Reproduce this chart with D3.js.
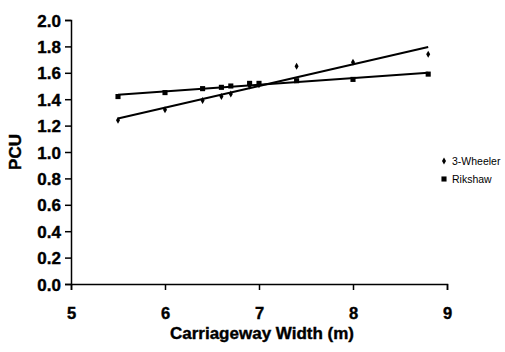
<!DOCTYPE html>
<html>
<head>
<meta charset="utf-8">
<script src="https://cdn.jsdelivr.net/npm/d3@7"></script>
<style>
  body { margin: 0; background: #fff; }
  text { font-family: "Liberation Sans", Arial, sans-serif; }
</style>
</head>
<body>
<div id="chart"></div>
<script>
// chart data
var widths = [5.5, 6.0, 6.4, 6.6, 6.7, 6.9, 7.0, 7.4, 8.0, 8.8];
var wheelerPcu = [1.24, 1.32, 1.39, 1.42, 1.44, 1.50, 1.51, 1.65, 1.68, 1.74];
var rikshawPcu = [1.42, 1.45, 1.48, 1.49, 1.50, 1.52, 1.52, 1.54, 1.55, 1.59];
var xTicks = [5, 6, 7, 8, 9];
var yTicks = [0, 0.2, 0.4, 0.6, 0.8, 1.0, 1.2, 1.4, 1.6, 1.8, 2.0];

var svgWidth = 505;
var svgHeight = 352;
var margin = { top: 20, right: 58, bottom: 68, left: 71 };
var chartWidth = svgWidth - margin.left - margin.right;
var chartHeight = svgHeight - margin.top - margin.bottom;

var svg = d3.select("#chart")
  .append("svg")
  .attr("width", svgWidth)
  .attr("height", svgHeight);

var chartGroup = svg.append("g")
  .attr("transform", "translate(" + margin.left + ", " + margin.top + ")");

var x = d3.scaleLinear().domain([5, 9]).range([0, chartWidth]);
var y = d3.scaleLinear().domain([0, 2]).range([chartHeight, 0]);

// least squares trend line
function fit(xs, ys) {
  var mx = d3.mean(xs), my = d3.mean(ys);
  var num = d3.sum(xs, function (d, i) { return (d - mx) * (ys[i] - my); });
  var den = d3.sum(xs, function (d) { return (d - mx) * (d - mx); });
  var b = num / den;
  return function (v) { return my + b * (v - mx); };
}

var series = [
  { name: "3-Wheeler", values: wheelerPcu, symbol: d3.symbolDiamond, size: 14 },
  { name: "Rikshaw", values: rikshawPcu, symbol: d3.symbolSquare, size: 26 }
];

// axes
var bottomAxis = d3.axisBottom(x).tickValues(xTicks).tickFormat(d3.format("d")).tickSizeOuter(0).tickSize(6);
var leftAxis = d3.axisLeft(y).tickValues(yTicks).tickFormat(d3.format(".1f")).tickSizeOuter(0).tickSize(6);

var gx = chartGroup.append("g")
  .attr("transform", "translate(0, " + chartHeight + ")")
  .call(bottomAxis);
gx.attr("font-size", null).attr("font-family", null);
gx.selectAll("text")
  .attr("dy", null)
  .attr("y", 35)
  .attr("font-size", 16.5)
  .attr("font-weight", "bold")
  .attr("stroke", "#000")
  .attr("stroke-width", 0.4);

var gy = chartGroup.append("g").call(leftAxis);
gy.attr("font-size", null).attr("font-family", null);
gy.selectAll("text")
  .attr("x", -10)
  .attr("dy", "0.36em")
  .attr("font-size", 17)
  .attr("font-weight", "bold")
  .attr("stroke", "#000")
  .attr("stroke-width", 0.4);

svg.selectAll(".domain, .tick line").attr("stroke", "#000").attr("stroke-width", 1.5);

// trend lines and points
series.forEach(function (s) {
  var f = fit(widths, s.values);
  var x0 = d3.min(widths), x1 = d3.max(widths);
  chartGroup.append("line")
    .attr("x1", x(x0)).attr("y1", y(f(x0)))
    .attr("x2", x(x1)).attr("y2", y(f(x1)))
    .attr("stroke", "#000")
    .attr("stroke-width", 2);

  chartGroup.selectAll(".pt-" + s.name)
    .data(widths)
    .enter()
    .append("path")
    .attr("d", d3.symbol().type(s.symbol).size(s.size))
    .attr("transform", function (d, i) {
      return "translate(" + x(d) + "," + y(s.values[i]) + ")";
    })
    .attr("fill", "#000");
});

// axis titles
svg.append("text")
  .attr("x", 262)
  .attr("y", 339)
  .attr("text-anchor", "middle")
  .attr("font-size", 17)
  .attr("font-weight", "bold")
  .attr("stroke", "#000")
  .attr("stroke-width", 0.4)
  .text("Carriageway Width (m)");

svg.append("text")
  .attr("transform", "translate(21, " + (margin.top + y(1.0)) + ") rotate(-90)")
  .attr("text-anchor", "middle")
  .attr("font-size", 17)
  .attr("font-weight", "bold")
  .attr("stroke", "#000")
  .attr("stroke-width", 0.4)
  .text("PCU");

// legend
var legend = svg.append("g").attr("transform", "translate(444, 161)");
series.forEach(function (s, i) {
  var row = legend.append("g").attr("transform", "translate(0, " + (i * 18) + ")");
  row.append("path")
    .attr("d", d3.symbol().type(s.symbol).size(s.size))
    .attr("fill", "#000");
  row.append("text")
    .attr("x", 8)
    .attr("y", 3.5)
    .attr("font-size", 10.5)
    .text(s.name);
});
</script>
</body>
</html>
